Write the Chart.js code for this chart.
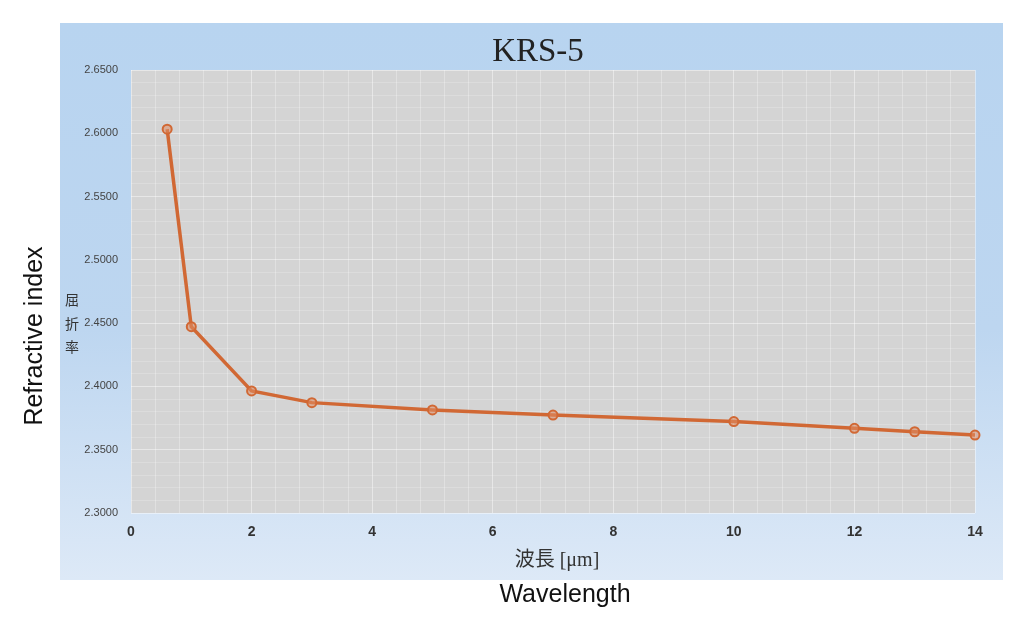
<!DOCTYPE html>
<html>
<head>
<meta charset="utf-8">
<script src="https://cdn.jsdelivr.net/npm/chart.js@4"></script>
<style>
  body { margin: 0; background: #fff; }
  canvas { display: block; }
</style>
</head>
<body>
<canvas id="krsChart" width="1024" height="618"></canvas>
<script>
// Data
const wavelengths = [0.6, 1, 2, 3, 5, 7, 10, 12, 13, 14];
const refractiveIndex = [2.6032, 2.4472, 2.3964, 2.3872, 2.3814, 2.3774, 2.3722, 2.3669, 2.3642, 2.3616];
const chartTitle = 'KRS-5';
const yTitleJa = ['屈', '折', '率'];
const xTitleJa = '波長 [μm]';
const yTitleEn = 'Refractive index';
const xTitleEn = 'Wavelength';

const lineColor = 'rgb(209, 104, 52)';

// Panel, plot background and extra texts
const decorPlugin = {
    id: 'decor',
    beforeDraw(chart) {
        const c = chart.ctx;
        const a = chart.chartArea;
        c.save();
        c.fillStyle = '#ffffff';
        c.fillRect(0, 0, chart.width, chart.height);
        const g = c.createLinearGradient(0, 23, 0, 580);
        g.addColorStop(0, '#b8d4f0');
        g.addColorStop(0.55, '#bdd6f0');
        g.addColorStop(1, '#dde9f7');
        c.fillStyle = g;
        c.fillRect(60, 23, 943, 557);
        c.fillStyle = '#d4d4d4';
        c.fillRect(a.left, a.top, a.right - a.left, a.bottom - a.top);
        c.restore();
    },
    afterDraw(chart) {
        const c = chart.ctx;
        c.save();
        c.textAlign = 'center';
        c.textBaseline = 'middle';

        c.fillStyle = '#222';
        c.font = '33px "Liberation Serif", "Noto Sans CJK JP", serif';
        c.fillText(chartTitle, 538, 52);

        c.fillStyle = '#333';
        c.font = '14px "Noto Sans CJK JP", serif';
        yTitleJa.forEach(function (ch, i) {
            c.fillText(ch, 72, 300 + i * 23.5);
        });

        c.font = '20px "Liberation Serif", "Noto Sans CJK JP", serif';
        c.fillText(xTitleJa, 557, 561);

        c.fillStyle = '#111';
        c.font = '25px "Liberation Sans", Arial, sans-serif';
        c.fillText(xTitleEn, 565, 595);

        c.translate(35, 336);
        c.rotate(-Math.PI / 2);
        c.fillText(yTitleEn, 0, 0);
        c.restore();
    }
};

function isMultiple(v, step) {
    const r = v / step;
    return Math.abs(r - Math.round(r)) < 1e-6;
}

const ctx = document.getElementById('krsChart').getContext('2d');
const krsChart = new Chart(ctx, {
    type: 'line',
    data: {
        datasets: [{
            label: chartTitle,
            data: wavelengths.map((w, i) => ({ x: w, y: refractiveIndex[i] })),
            borderColor: lineColor,
            borderWidth: 3.5,
            pointRadius: 4.5,
            pointBorderWidth: 2,
            pointBorderColor: lineColor,
            pointBackgroundColor: 'rgba(222, 140, 100, 0.55)',
            tension: 0,
            fill: false,
            clip: false
        }]
    },
    options: {
        responsive: false,
        animation: false,
        layout: { padding: { left: 61, right: 49, top: 70, bottom: 0 } },
        plugins: {
            legend: { display: false },
            tooltip: { enabled: false }
        },
        scales: {
            x: {
                type: 'linear',
                min: 0,
                max: 14,
                afterFit: function (s) { s.height = 105; },
                border: { display: false },
                grid: {
                    drawTicks: false,
                    color: function (t) {
                        return isMultiple(t.tick.value, 2) ? 'rgba(255,255,255,0.45)' : 'rgba(255,255,255,0.28)';
                    }
                },
                ticks: {
                    stepSize: 0.4,
                    autoSkip: false,
                    maxRotation: 0,
                    padding: 11,
                    color: '#333',
                    font: { family: '"Liberation Sans", Arial, sans-serif', size: 14, weight: 'bold' },
                    callback: function (v) { return isMultiple(v, 2) ? String(Math.round(v)) : ''; }
                }
            },
            y: {
                min: 2.3,
                max: 2.65,
                afterFit: function (s) { s.width = 70; },
                border: { display: false },
                grid: {
                    drawTicks: false,
                    color: function (t) {
                        return isMultiple(t.tick.value - 2.3, 0.05) ? 'rgba(255,255,255,0.45)' : 'rgba(255,255,255,0.2)';
                    }
                },
                ticks: {
                    stepSize: 0.01,
                    autoSkip: false,
                    padding: 13,
                    color: '#444',
                    font: { family: '"Liberation Sans", Arial, sans-serif', size: 11 },
                    callback: function (v) { return isMultiple(v - 2.3, 0.05) ? v.toFixed(4) : ''; }
                }
            }
        }
    },
    plugins: [decorPlugin]
});
</script>
</body>
</html>
